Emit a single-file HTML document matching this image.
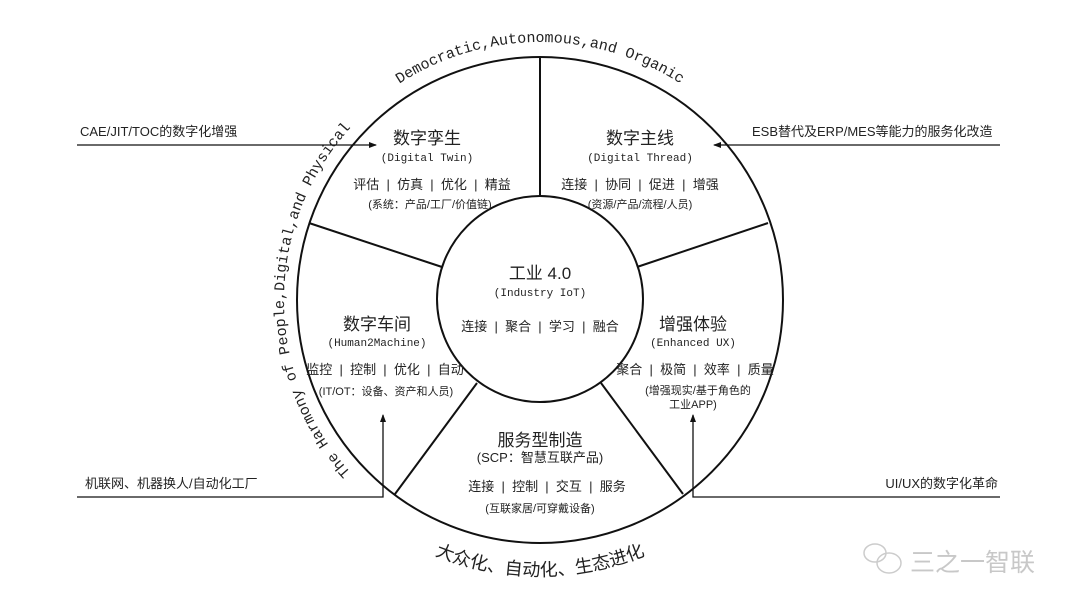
<!DOCTYPE html>
<html><head><meta charset="utf-8"><style>
html,body{margin:0;padding:0;background:#fff;}
svg{display:block;}
text{font-family:"Liberation Sans","Noto Sans CJK SC",sans-serif;fill:#222;}
.m{font-family:"Liberation Mono","Noto Sans CJK SC",monospace;}
</style></head><body>
<svg width="1080" height="608" viewBox="0 0 1080 608" xmlns="http://www.w3.org/2000/svg">
<defs>
<marker id="ah" markerWidth="8" markerHeight="8" refX="7" refY="4" orient="auto" markerUnits="userSpaceOnUse">
<path d="M0,1 L8,4 L0,7 Z" fill="#111"/></marker>
<path id="topArc" d="M 282,300 A 258,258 0 0 1 798,300"/>
<path id="leftArc" d="M 540,556 A 256,256 0 0 1 540,44"/>
<path id="botArc" d="M 264,300 A 276,276 0 0 0 816,300"/>
</defs>
<g fill="none" stroke="#111" stroke-width="2">
<circle cx="540" cy="300" r="243"/>
<circle cx="540" cy="299" r="103"/>
<line x1="540" y1="57" x2="540" y2="196"/>
<line x1="309" y1="223" x2="442" y2="267"/>
<line x1="768" y1="223" x2="637" y2="267"/>
<line x1="477" y1="383" x2="395" y2="494"/>
<line x1="601" y1="383" x2="683" y2="494"/>
</g>
<g fill="none" stroke="#111" stroke-width="1.3">
<line x1="77" y1="145" x2="376" y2="145" marker-end="url(#ah)"/>
<line x1="1000" y1="145" x2="714" y2="145" marker-end="url(#ah)"/>
<polyline points="77,497 383,497 383,415" marker-end="url(#ah)"/>
<polyline points="1000,497 693,497 693,415" marker-end="url(#ah)"/>
</g>
<text x="80" y="136" font-size="13">CAE/JIT/TOC的数字化增强</text>
<text x="752" y="136" font-size="13">ESB替代及ERP/MES等能力的服务化改造</text>
<text x="85" y="488" font-size="13">机联网、机器换人/自动化工厂</text>
<text x="998" y="488" font-size="13" text-anchor="end">UI/UX的数字化革命</text>

<text class="m" font-size="15"><textPath href="#topArc" startOffset="50%" text-anchor="middle">Democratic,Autonomous,and Organic</textPath></text>
<text class="m" font-size="15"><textPath href="#leftArc" startOffset="50%" text-anchor="middle">The Harmony of People,Digital,and Physical</textPath></text>
<text font-size="18"><textPath href="#botArc" startOffset="50%" text-anchor="middle">大众化、自动化、生态进化</textPath></text>

<g text-anchor="middle">
<text x="427" y="144" font-size="17">数字孪生</text>
<text x="427" y="161" font-size="11" class="m">(Digital Twin)</text>
<text x="432" y="189" font-size="13">评估 &#160;| &#160;仿真 &#160;| &#160;优化 &#160;| &#160;精益</text>
<text x="430" y="208" font-size="11">(系统：产品/工厂/价值链)</text>

<text x="640" y="144" font-size="17">数字主线</text>
<text x="640" y="161" font-size="11" class="m">(Digital Thread)</text>
<text x="640" y="189" font-size="13">连接 &#160;| &#160;协同 &#160;| &#160;促进 &#160;| &#160;增强</text>
<text x="640" y="208" font-size="11">(资源/产品/流程/人员)</text>

<text x="540" y="279" font-size="17">工业 4.0</text>
<text x="540" y="296" font-size="11" class="m">(Industry IoT)</text>
<text x="540" y="331" font-size="13">连接 &#160;| &#160;聚合 &#160;| &#160;学习 &#160;| &#160;融合</text>

<text x="377" y="330" font-size="17">数字车间</text>
<text x="377" y="346" font-size="11" class="m">(Human2Machine)</text>
<text x="385" y="374" font-size="13">监控 &#160;| &#160;控制 &#160;| &#160;优化 &#160;| &#160;自动</text>
<text x="386" y="395" font-size="11">(IT/OT：设备、资产和人员)</text>

<text x="693" y="330" font-size="17">增强体验</text>
<text x="693" y="346" font-size="11" class="m">(Enhanced UX)</text>
<text x="695" y="374" font-size="13">聚合 &#160;| &#160;极简 &#160;| &#160;效率 &#160;| &#160;质量</text>
<text x="698" y="394" font-size="11">(增强现实/基于角色的</text>
<text x="693" y="408" font-size="11">工业APP)</text>

<text x="540" y="446" font-size="17">服务型制造</text>
<text x="540" y="462" font-size="13">(SCP：智慧互联产品)</text>
<text x="547" y="491" font-size="13">连接 &#160;| &#160;控制 &#160;| &#160;交互 &#160;| &#160;服务</text>
<text x="540" y="512" font-size="11">(互联家居/可穿戴设备)</text>
</g>

<g fill="none" stroke="#ccc" stroke-width="1.5">
<ellipse cx="875" cy="553" rx="11" ry="9"/>
<ellipse cx="889" cy="563" rx="12" ry="10"/>
</g>
<text x="910" y="571" font-size="25" style="fill:#c8c8c8">三之一智联</text>
</svg>
</body></html>
